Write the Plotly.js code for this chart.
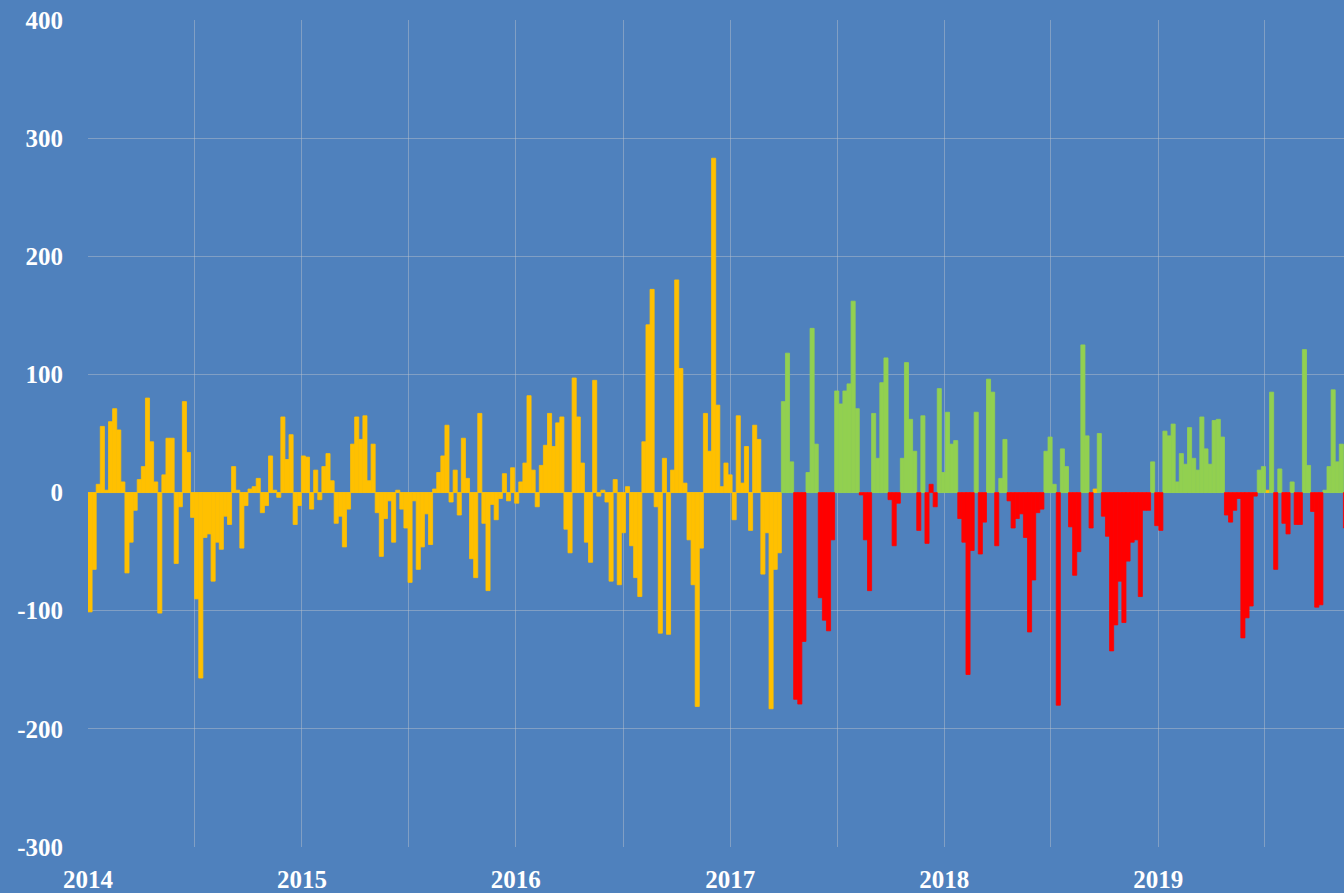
<!DOCTYPE html>
<html>
<head>
<meta charset="utf-8">
<script src="https://cdn.plot.ly/plotly-3.0.1.min.js"></script>
<style>
  html, body { margin: 0; padding: 0; background: #4F81BD; }
  #chart { width: 1344px; height: 893px; }
</style>
</head>
<body>
<div id="chart"></div>
<script>
// Weekly values (weeks start 2014-01-01, 7-day steps)
const firstWeek = '2014-01-01';
const weeks2014 = [-101,-65,7,56,2,60,71,53,9,-68,-42,-15,11,22,80,43,9,-102,15,46,46,-60,-12,77,34,-21,-90,-157,-38,-35,-75,-42,-48,-20,-27,22,2,-47,-11,3,5,12,-17,-11,31,2,-4,64,28,49,-27,-11];
const weeks2015 = [31,30,-14,19,-6,22,33,10,-26,-20,-46,-14,41,64,45,65,10,41,-17,-54,-22,-7,-42,2,-14,-30,-76,-7,-65,-46,-18,-44,3,17,31,57,-8,19,-19,46,12,-56,-72,67,-26,-83,-10,-23,-5,16,-7,21];
const weeks2016 = [-9,9,25,82,19,-12,23,40,67,39,59,64,-31,-51,97,64,25,-42,-59,95,-3,2,-8,-75,11,-78,-34,5,-45,-72,-88,43,142,172,-12,-119,29,-120,19,180,105,8,-40,-78,-181,-47,67,35,283,74,5,25];
const weeks2017 = [15,-23,65,8,39,-32,57,45,-69,-34,-183,-65,-51,77,118,26,-175,-179,-126,17,139,41,-89,-108,-117,-40,86,75,86,92,162,71,-2,-40,-83,67,29,93,114,-6,-45,-9,29,110,62,35,-32,65,-43,7,-12,88];
const weeks2018 = [17,68,41,44,-22,-42,-154,-49,68,-52,-25,96,85,-45,12,45,-7,-30,-22,-18,-38,-118,-74,-17,-14,35,47,7,-180,37,22,-29,-70,-50,125,48,-30,3,50,-20,-37,-134,-112,-75,-110,-58,-42,-40,-88,-15,-15,26];
const weeks2019 = [-28,-32,52,48,58,9,33,24,55,29,19,64,37,24,61,62,47,-19,-25,-15,-5,-123,-106,-96,-3,19,22,2,85,-65,20,-26,-35,9,-27,-27,121,23,-16,-97,-95,2,22,87,26,41,-30];

// Series membership
const seriesNames = ['History', 'Gain', 'Loss'];
const historyWeekCount = 169;         // first weeks drawn in the history colour
const laterHistoryWeeks = [245, 287]; // small later weeks in the history colour
const lossPositiveWeeks = [205];      // positive week drawn in the loss colour

// Axis labels
const yTickValues = [-300,-200,-100,0,100,200,300,400];
const yTickLabels = ['-300','-200','-100','0','100','200','300','400'];
const yearLabels = ['2014','2015','2016','2017','2018','2019'];

// ---- build ----
const values = [].concat(weeks2014, weeks2015, weeks2016, weeks2017, weeks2018, weeks2019);
const DAY = 86400000, WEEK = 7 * DAY;
const t0 = Date.parse(firstWeek + 'T00:00:00Z');
const iso = ms => new Date(ms).toISOString().slice(0, 10);
const dates = values.map((v, i) => iso(t0 + i * WEEK));

function seriesOf(i, v) {
  if (i < historyWeekCount || laterHistoryWeeks.includes(i)) return 0;
  if (lossPositiveWeeks.includes(i)) return 2;
  return v >= 0 ? 1 : 2;
}
const colours = ['#FFC000', '#92D050', '#FF0000'];
const traces = seriesNames.map((name, s) => {
  const x = [], y = [];
  values.forEach((v, i) => { if (seriesOf(i, v) === s) { x.push(dates[i]); y.push(v); } });
  return {
    type: 'bar', name, x, y,
    width: WEEK, offset: 0,
    marker: { color: colours[s], line: { color: colours[s], width: 0.8 } },
    hoverinfo: 'x+y'
  };
});

const xTickVals = [], xTickText = [];
yearLabels.forEach(yr => {
  xTickVals.push(yr + '-01-01'); xTickText.push(yr);
  xTickVals.push(yr + '-07-02'); xTickText.push('');
});

const font = { family: '"Liberation Serif", "Times New Roman", serif', size: 25, color: '#FFFFFF', weight: 'bold' };
const grid = 'rgba(190,195,205,0.45)';

const layout = {
  width: 1344, height: 893,
  paper_bgcolor: '#4F81BD', plot_bgcolor: '#4F81BD',
  margin: { l: 88, r: 0, t: 20, b: 46 },
  showlegend: false,
  barmode: 'overlay', bargap: 0,
  xaxis: {
    type: 'date',
    range: ['2014-01-01', '2019-11-14'],
    tickmode: 'array', tickvals: xTickVals, ticktext: xTickText,
    showgrid: true, gridcolor: grid, gridwidth: 1,
    zeroline: false, showline: false, ticks: '',
    tickfont: font, ticklabelstandoff: 15
  },
  yaxis: {
    range: [-300, 400],
    tickmode: 'array', tickvals: yTickValues, ticktext: yTickLabels,
    showgrid: true, gridcolor: grid, gridwidth: 1,
    zeroline: true, zerolinecolor: 'rgba(200,205,160,0.6)', zerolinewidth: 1,
    showline: false, ticks: '',
    tickfont: font, ticklabelstandoff: 24
  }
};

Plotly.newPlot('chart', traces, layout, { staticPlot: true, displayModeBar: false });
</script>
</body>
</html>
